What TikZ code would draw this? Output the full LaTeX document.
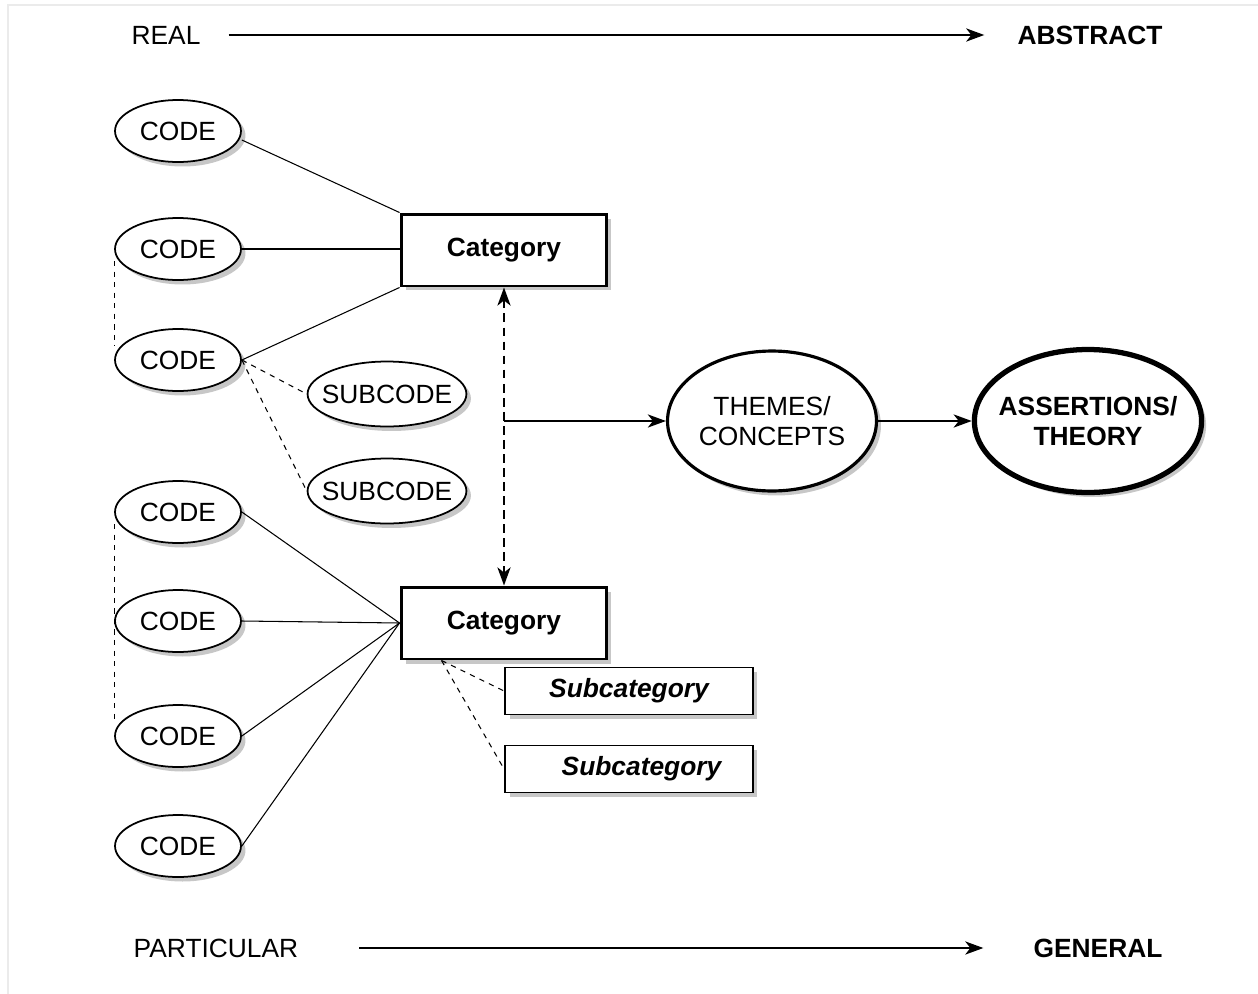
\documentclass[tikz,border=0pt]{standalone}
\usepackage{fontspec}
\setmainfont{Liberation Sans}
\usetikzlibrary{arrows.meta, shapes.geometric, shadows, positioning}
\tikzset{>={Stealth[length=0.36cm, width=0.26cm, inset=0.1cm]}, % bold arrow heads
every node/.style={font=\fontsize{15}{17.5}\selectfont}, % same text size everywhere
shade/.style={drop shadow={shadow xshift=0.09cm, shadow yshift=-0.09cm, fill=black!22, opacity=1}}, % grey drop shadow
code/.style={ellipse, draw, line width=1pt, fill=white, shade, minimum width=2.52cm, minimum height=1.24cm, inner sep=0pt},
subcode/.style={code, inner xsep=-0.18cm, minimum width=3.0cm, minimum height=1.3cm},
catbox/.style={rectangle, draw, line width=1.7pt, fill=white, shade, minimum width=4.12cm, minimum height=1.44cm, font=\fontsize{15}{17.5}\selectfont\bfseries},
subbox/.style={rectangle, draw, line width=1.1pt, fill=white, shade, minimum width=4.96cm, minimum height=0.94cm, font=\fontsize{15}{17.5}\selectfont\bfseries\itshape},
link/.style={line width=0.6pt}, % plain connector
sublink/.style={line width=0.6pt, dashed}, % dashed connector
axis/.style={->, line width=1.6pt}, % top and bottom arrows
}

\begin{document}
\begin{tikzpicture}[x=0.02cm, y=-0.02cm]
    \useasboundingbox (0,0) rectangle (1258,994);
    \draw[black!8, line width=1.6pt] (8,994) -- (8,5) -- (1258,5);
    % axes
    \node (real) at (166,35) {REAL};
    \node[font=\fontsize{15}{17.5}\selectfont\bfseries] (abstract) at (1090,35) {ABSTRACT};
    \node (particular) at (216,948) {PARTICULAR};
    \node[font=\fontsize{15}{17.5}\selectfont\bfseries] (general) at (1098,948) {GENERAL};
    \draw[axis] ([xshift=0.44cm]real.east) -- ([xshift=-0.54cm]abstract.west);
    \draw[axis] ([xshift=1.1cm]particular.east) -- ([xshift=-0.88cm]general.west);
    % codes
    \node[code] (c1) at (178,131) {CODE};
    \node[code] (c2) at (178,249) {CODE};
    \node[code] (c3) at (178,360) {CODE};
    \node[code] (c4) at (178,512) {CODE};
    \node[code] (c5) at (178,621) {CODE};
    \node[code] (c6) at (178,736) {CODE};
    \node[code] (c7) at (178,846) {CODE};
    \node[subcode] (s1) at (387,394) {SUBCODE};
    \node[subcode] (s2) at (387,491) {SUBCODE};
    % categories
    \node[catbox] (cat1) at (504,250) {Category};
    \node[catbox] (cat2) at (504,623) {Category};
    \node[subbox] (sub1) at (629,691) {Subcategory};
    \node[subbox] (sub2) at (629,769) {\hspace{0.5cm}Subcategory};
    % themes and theory
    \node[ellipse, draw, line width=1.8pt, fill=white, shade, minimum width=4.18cm, minimum height=2.8cm, inner sep=0pt, align=center] (themes) at (772,421) {THEMES/\\CONCEPTS};
    \node[ellipse, draw, line width=3pt, fill=white, shade, minimum width=4.4cm, minimum height=2.86cm, inner sep=0pt, inner xsep=-0.18cm, align=center, font=\fontsize{15}{17.5}\selectfont\bfseries] (theory) at (1088,421) {ASSERTIONS/\\THEORY};
    % connectors
    \draw[link] ([yshift=-0.18cm]c1.east) -- (cat1.north west);
    \draw[link] (c2.east) -- (c2.east -| cat1.west);
    \draw[link] (c3.east) -- (cat1.south west);
    \draw[sublink] (c3.east) -- (s1.west);
    \draw[sublink] (c3.east) -- (s2.west);
    \draw[sublink] ([yshift=-0.24cm]c2.west) -- ([yshift=0.28cm]c3.west);
    \draw[sublink] ([yshift=-0.24cm]c4.west) -- ([yshift=0.28cm]c6.west);
    \foreach \c in {c4,c5,c6,c7}
        \draw[link] (\c.east) -- (cat2.west);
    \draw[sublink] ([xshift=0.84cm]cat2.south west) -- (sub1.west);
    \draw[sublink] ([xshift=0.84cm]cat2.south west) -- (sub2.west);
    \draw[<->, line width=1.6pt, dash pattern=on 5pt off 3pt] (cat1.south) -- (cat2.north);
    \coordinate (mid) at (504,421);
    \draw[->, line width=1.6pt] (mid) -- (themes.west);
    \draw[->, line width=1.6pt] (themes.east) -- (theory.west);
\end{tikzpicture}
\end{document}
